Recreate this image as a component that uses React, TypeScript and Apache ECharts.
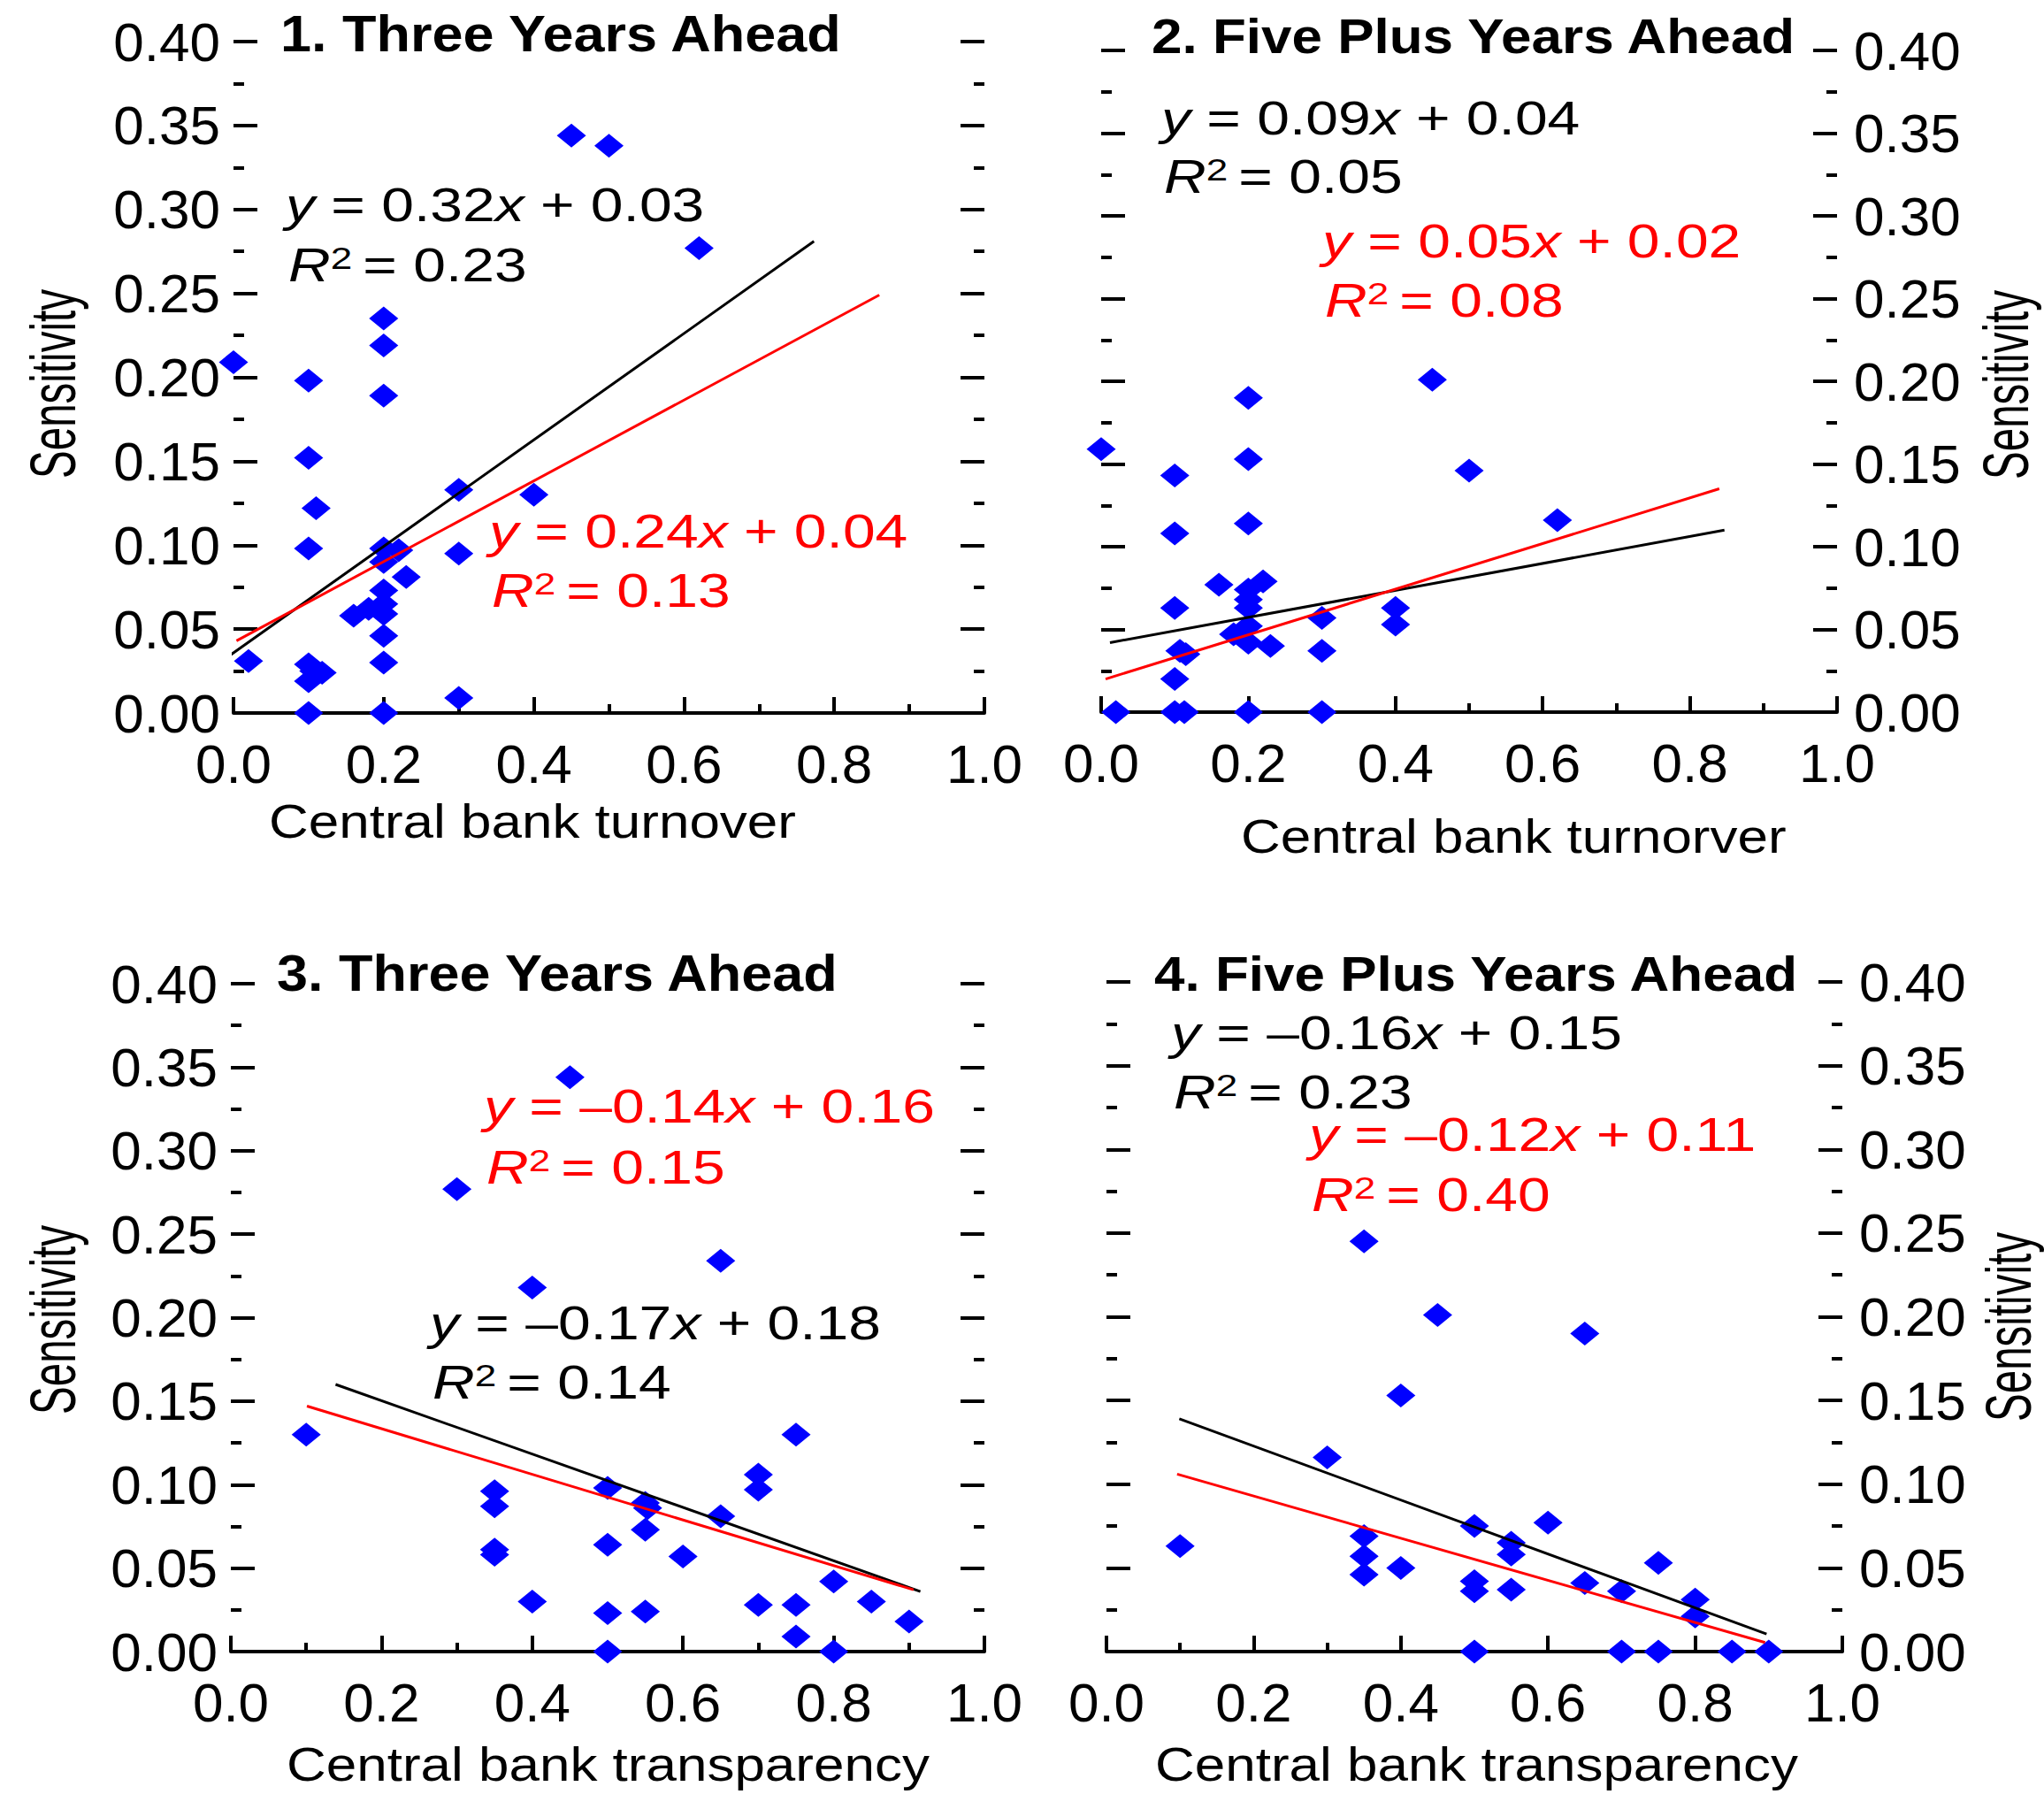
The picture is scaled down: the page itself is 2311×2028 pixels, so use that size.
import React, { useEffect, useRef } from 'react';
import * as echarts from 'echarts';

const FONT = '"Liberation Sans", Arial, Helvetica, sans-serif';

// ---------- texts ----------
const panelTitles = ['1. Three Years Ahead', '2. Five Plus Years Ahead', '3. Three Years Ahead', '4. Five Plus Years Ahead'];
const xAxisNames = ['Central bank turnover', 'Central bank turnorver', 'Central bank transparency', 'Central bank transparency'];
const yAxisName = 'Sensitivity';

// equation values per panel: [slope, intercept, R2]
const blackEq = [['0.32', '0.03', '0.23'], ['0.09', '0.04', '0.05'], ['–0.17', '0.18', '0.14'], ['–0.16', '0.15', '0.23']];
const redEq = [['0.24', '0.04', '0.13'], ['0.05', '0.02', '0.08'], ['–0.14', '0.16', '0.15'], ['–0.12', '0.11', '0.40']];

// ---------- data ----------
const p1Points: [number, number][] = [
  [0.0, 0.209], [0.02, 0.031], [0.1, 0.198], [0.1, 0.152], [0.11, 0.122], [0.1, 0.098],
  [0.1, 0.029], [0.107, 0.025], [0.118, 0.024], [0.1, 0.019], [0.1, 0.0],
  [0.2, 0.235], [0.2, 0.219], [0.2, 0.189], [0.2, 0.098], [0.22, 0.097], [0.2, 0.09],
  [0.23, 0.081], [0.2, 0.073], [0.2, 0.065], [0.18, 0.062], [0.16, 0.058], [0.2, 0.059],
  [0.2, 0.046], [0.2, 0.03], [0.2, 0.0], [0.3, 0.133], [0.3, 0.095], [0.3, 0.009],
  [0.4, 0.13], [0.45, 0.344], [0.5, 0.338], [0.62, 0.277],
];
const p2Points: [number, number][] = [
  [0.0, 0.159], [0.02, 0.0], [0.1, 0.143], [0.1, 0.108], [0.1, 0.063], [0.1, 0.02],
  [0.1, 0.0], [0.113, 0.0], [0.107, 0.037], [0.115, 0.035], [0.16, 0.077],
  [0.2, 0.19], [0.2, 0.153], [0.2, 0.114], [0.2, 0.074], [0.2, 0.068], [0.2, 0.063],
  [0.22, 0.079], [0.18, 0.047], [0.2, 0.052], [0.2, 0.042], [0.23, 0.04], [0.2, 0.0],
  [0.3, 0.057], [0.3, 0.037], [0.3, 0.0], [0.4, 0.063], [0.4, 0.053], [0.45, 0.201],
  [0.5, 0.146], [0.62, 0.116],
];
const p3Points: [number, number][] = [
  [0.1, 0.13], [0.3, 0.277], [0.4, 0.218], [0.45, 0.344], [0.65, 0.234],
  [0.35, 0.096], [0.35, 0.087], [0.35, 0.061], [0.35, 0.058], [0.4, 0.03],
  [0.5, 0.098], [0.5, 0.064], [0.5, 0.023], [0.5, 0.0], [0.55, 0.089], [0.553, 0.086],
  [0.55, 0.073], [0.55, 0.024], [0.6, 0.057], [0.65, 0.081], [0.7, 0.106], [0.7, 0.097],
  [0.7, 0.028], [0.75, 0.13], [0.75, 0.028], [0.75, 0.009], [0.8, 0.042], [0.8, 0.0],
  [0.85, 0.03], [0.9, 0.018],
];
const p4Points: [number, number][] = [
  [0.1, 0.063], [0.3, 0.116], [0.35, 0.245], [0.35, 0.069], [0.35, 0.057], [0.35, 0.046],
  [0.4, 0.153], [0.4, 0.05], [0.45, 0.201], [0.5, 0.075], [0.5, 0.042], [0.5, 0.036],
  [0.5, 0.0], [0.55, 0.065], [0.55, 0.058], [0.55, 0.037], [0.6, 0.077], [0.65, 0.19],
  [0.65, 0.041], [0.7, 0.036], [0.7, 0.0], [0.75, 0.053], [0.75, 0.0], [0.8, 0.031],
  [0.8, 0.021], [0.85, 0.0], [0.9, 0.0],
];

// fitted lines (end points)
const blackFits: [number, number][][] = [
  [[-0.006, 0.034], [0.773, 0.281]],
  [[0.012, 0.042], [0.847, 0.11]],
  [[0.139, 0.16], [0.915, 0.036]],
  [[0.099, 0.139], [0.897, 0.0105]],
];
const redFits: [number, number][][] = [
  [[0.004, 0.043], [0.86, 0.249]],
  [[0.006, 0.02], [0.84, 0.135]],
  [[0.101, 0.147], [0.906, 0.037]],
  [[0.096, 0.106], [0.895, 0.0054]],
];

const allPoints = [p1Points, p2Points, p3Points, p4Points];

// ---------- layout ----------
const grids = [
  { left: 264, top: 47, width: 849, height: 759 },
  { left: 1245, top: 57, width: 832, height: 748 },
  { left: 261, top: 1112, width: 852, height: 755 },
  { left: 1251, top: 1110, width: 832, height: 757 },
];
const labelSide = ['left', 'right', 'left', 'right'];
const titlePos = [[317, 39], [1302, 41], [313, 1101], [1305, 1101]];
const titleSize = [63, 62, 63, 62];
const xNamePos = [[304, 928], [1403, 945], [324, 1994], [1306, 1994]];
const yNamePos = [[60, 434], [2268, 435], [60, 1492], [2271, 1500]];
const blackEqPos = [[323, 232, 300], [1313, 134, 200], [486, 1496, 1563], [1324, 1168, 1235]];
const redEqPos = [[553, 601, 668], [1495, 273, 340], [547, 1251, 1320], [1480, 1283, 1351]];

function eqRich(color: string) {
  return {
    i: { fontStyle: 'italic', fontSize: 66, fontFamily: FONT, fill: color },
    n: { fontSize: 66, fontFamily: FONT, fill: color },
    s: { fontSize: 44, fontFamily: FONT, fill: color, verticalAlign: 'top' },
  };
}

function eqElements(vals: string[], pos: number[], color: string) {
  const [slope, intercept, r2] = vals;
  const [x, y1, y2] = pos;
  return [
    {
      type: 'text', x, y: y1, scaleY: 0.8, z: 10,
      style: {
        text: `{i|y }{n|= ${slope}}{i|x }{n|+ ${intercept}}`,
        rich: eqRich(color), fill: color, fontSize: 66, fontFamily: FONT,
        align: 'left', verticalAlign: 'middle',
      },
    },
    {
      type: 'text', x: x + 3, y: y2, scaleY: 0.8, z: 10,
      style: {
        text: `{i|R}{s|2 }{n|= ${r2}}`,
        rich: eqRich(color), fill: color, fontSize: 66, fontFamily: FONT,
        align: 'left', verticalAlign: 'middle',
      },
    },
  ];
}

export default function App() {
  const ref = useRef<HTMLDivElement>(null);
  useEffect(() => {
    if (!ref.current) return;
    const chart = echarts.init(ref.current, undefined, { renderer: 'svg' });
    const tickStyle = { color: '#000', width: 4 };

    const xAxes = grids.map((_, i) => ({
      gridIndex: i, type: 'value', min: 0, max: 1, interval: 0.2,
      axisLine: { show: true, onZero: false, lineStyle: tickStyle },
      axisTick: { show: true, inside: true, length: 18, lineStyle: tickStyle },
      minorTick: { show: true, splitNumber: 2, length: 10, lineStyle: tickStyle },
      splitLine: { show: false },
      axisLabel: {
        show: true, margin: 26, fontSize: 62, fontFamily: FONT, color: '#000',
        formatter: (v: number) => v.toFixed(1),
      },
    }));

    const yAxes: any[] = [];
    grids.forEach((_, i) => {
      ['left', 'right'].forEach((pos) => {
        const labeled = pos === labelSide[i];
        yAxes.push({
          gridIndex: i, type: 'value', position: pos, min: 0, max: 0.4, interval: 0.05,
          axisLine: { show: false },
          axisTick: { show: true, inside: true, length: 27, lineStyle: tickStyle },
          minorTick: { show: true, splitNumber: 2, length: 12, lineStyle: tickStyle },
          splitLine: { show: false },
          axisLabel: {
            show: labeled, margin: pos === 'left' ? 15 : 19, fontSize: 62, fontFamily: FONT, color: '#000',
            formatter: (v: number) => v.toFixed(2),
          },
        });
      });
    });

    const series: any[] = [];
    grids.forEach((_, i) => {
      series.push({
        type: 'scatter', xAxisIndex: i, yAxisIndex: 2 * i, data: allPoints[i],
        symbol: 'diamond', symbolSize: [33, 27], clip: false, z: 2,
        itemStyle: { color: '#0000FF', opacity: 1 },
      });
      series.push({
        type: 'line', xAxisIndex: i, yAxisIndex: 2 * i, data: blackFits[i],
        symbol: 'none', clip: false, z: 3, lineStyle: { color: '#000000', width: 3 },
      });
      series.push({
        type: 'line', xAxisIndex: i, yAxisIndex: 2 * i, data: redFits[i],
        symbol: 'none', clip: false, z: 4, lineStyle: { color: '#FF0000', width: 3 },
      });
    });

    const elements: any[] = [];
    grids.forEach((_, i) => {
      elements.push({
        type: 'text', x: titlePos[i][0], y: titlePos[i][1], scaleY: 0.9, z: 10,
        style: {
          text: panelTitles[i], fontSize: titleSize[i], fontWeight: 'bold', fontFamily: FONT, fill: '#000',
          align: 'left', verticalAlign: 'middle',
        },
      });
      elements.push({
        type: 'text', x: xNamePos[i][0], y: xNamePos[i][1], scaleY: 0.88, z: 10,
        style: {
          text: xAxisNames[i], fontSize: 62, fontFamily: FONT, fill: '#000',
          align: 'left', verticalAlign: 'middle',
        },
      });
      elements.push({
        type: 'text', x: yNamePos[i][0], y: yNamePos[i][1], rotation: Math.PI / 2, scaleX: 0.66, z: 10,
        style: {
          text: yAxisName, fontSize: 72, fontFamily: FONT, fill: '#000',
          align: 'center', verticalAlign: 'middle',
        },
      });
      elements.push(...eqElements(blackEq[i], blackEqPos[i], '#000000'));
      elements.push(...eqElements(redEq[i], redEqPos[i], '#FF0000'));
    });

    chart.setOption({
      animation: false,
      backgroundColor: '#ffffff',
      grid: grids.map((g) => ({ ...g, containLabel: false })),
      xAxis: xAxes,
      yAxis: yAxes,
      series,
      graphic: { elements },
    });
    return () => chart.dispose();
  }, []);

  return (
    <div
      ref={ref}
      style={{ position: 'absolute', left: 0, top: 0, width: 2311, height: 2028, background: '#fff' }}
    />
  );
}
